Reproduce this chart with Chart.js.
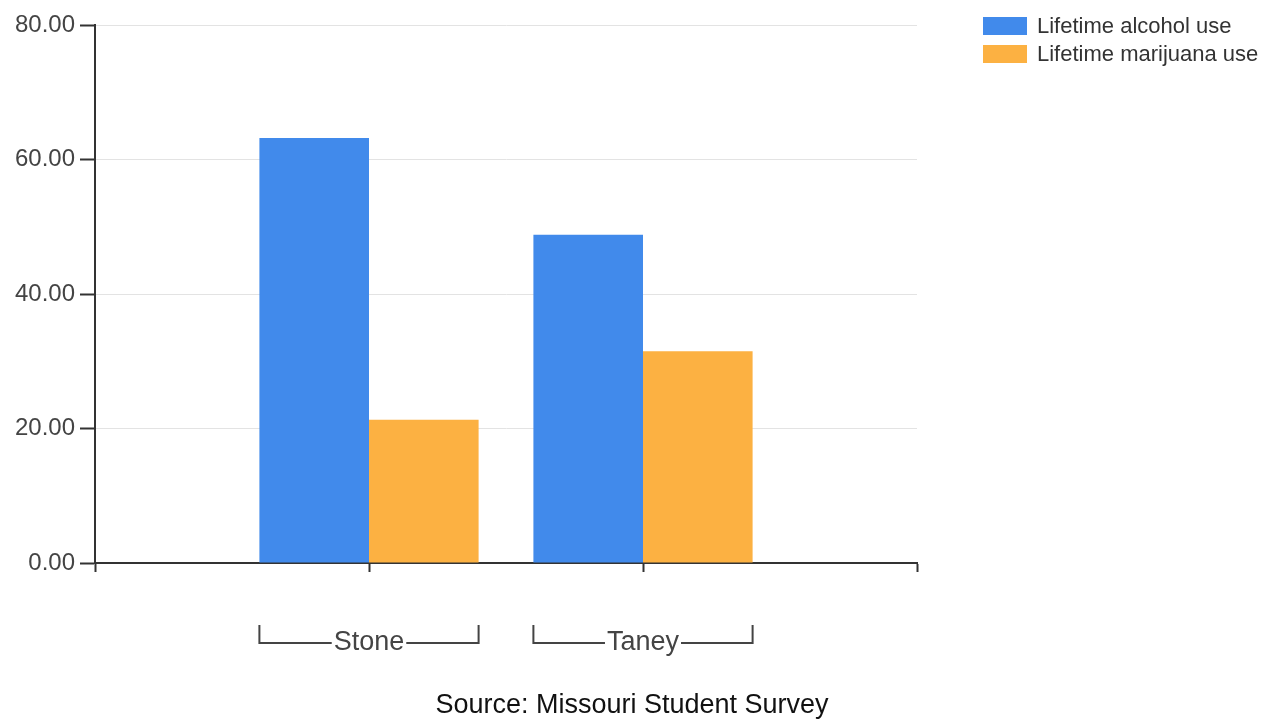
<!DOCTYPE html>
<html>
<head>
<meta charset="utf-8">
<script src="https://cdn.jsdelivr.net/npm/chart.js@4/dist/chart.umd.min.js"></script>
<style>
  html, body { margin: 0; padding: 0; background: #fff; }
</style>
</head>
<body>
<canvas id="surveyChart" width="1272" height="719"></canvas>
<script>
// empty slots at both ends keep the two groups in the middle of the axis
const categories = ['', 'Stone', 'Taney', ''];
const alcoholUse = [null, 63.2, 48.8, null];
const marijuanaUse = [null, 21.3, 31.5, null];
const seriesNames = ['Lifetime alcohol use', 'Lifetime marijuana use'];
const seriesColors = ['#418AEB', '#FCB142'];
const yMin = 0, yMax = 80, yStep = 20;
const sourceNote = 'Source: Missouri Student Survey';

const FONT = '"Liberation Sans", Arial, sans-serif';

// brackets under categories, legend at top right, source line at bottom
const extras = {
    id: 'extras',
    afterDraw(chart) {
        const ctx = chart.ctx;
        const x = chart.scales.x;
        const bottom = chart.chartArea.bottom;
        ctx.save();

        ctx.font = '27px ' + FONT;
        ctx.strokeStyle = '#444';
        ctx.lineWidth = 2;
        const step = x.getPixelForValue(1) - x.getPixelForValue(0);
        const half = step * 0.8 / 2;
        categories.forEach((c, i) => {
            if (!c) return;
            const cx = x.getPixelForValue(i);
            const tw = ctx.measureText(c).width;
            const yTop = bottom + 62, yLine = bottom + 80;
            ctx.beginPath();
            ctx.moveTo(cx - half, yTop);
            ctx.lineTo(cx - half, yLine);
            ctx.lineTo(cx - tw / 2 - 2, yLine);
            ctx.moveTo(cx + tw / 2 + 2, yLine);
            ctx.lineTo(cx + half, yLine);
            ctx.lineTo(cx + half, yTop);
            ctx.stroke();
        });

        // legend
        ctx.font = '22px ' + FONT;
        ctx.textBaseline = 'middle';
        ctx.textAlign = 'left';
        chart.data.datasets.forEach((ds, i) => {
            const top = 17 + i * 28;
            ctx.fillStyle = ds.backgroundColor;
            ctx.fillRect(983, top, 44, 18);
            ctx.fillStyle = '#333';
            ctx.fillText(ds.label, 1037, top + 10);
        });

        // source
        ctx.font = '27px ' + FONT;
        ctx.fillStyle = '#111';
        ctx.textAlign = 'center';
        ctx.fillText(sourceNote, 632, 706);
        ctx.restore();
    }
};

const ctx = document.getElementById('surveyChart').getContext('2d');

const surveyChart = new Chart(ctx, {
    type: 'bar',
    data: {
        labels: categories,
        datasets: [{
            label: seriesNames[0],
            data: alcoholUse,
            backgroundColor: seriesColors[0]
        }, {
            label: seriesNames[1],
            data: marijuanaUse,
            backgroundColor: seriesColors[1]
        }]
    },
    options: {
        responsive: false,
        animation: false,
        categoryPercentage: 0.8,
        barPercentage: 1.0,
        layout: {
            padding: { top: 25, right: 355, bottom: 0, left: 0 }
        },
        plugins: {
            legend: { display: false },
            tooltip: { enabled: false }
        },
        scales: {
            x: {
                offset: false,
                afterFit: (s) => { s.height = 156; },
                grid: {
                    offset: false,
                    drawOnChartArea: false,
                    drawTicks: true,
                    tickLength: 9,
                    tickColor: '#333',
                    tickWidth: 2
                },
                border: { color: '#333', width: 2 },
                ticks: {
                    padding: 54,
                    color: '#444',
                    font: { family: FONT, size: 27 }
                }
            },
            y: {
                min: yMin,
                max: yMax,
                afterFit: (s) => { s.width = 95; },
                grid: {
                    color: '#e3e3e3',
                    lineWidth: 1,
                    tickLength: 15,
                    tickColor: '#333',
                    tickWidth: 2
                },
                border: { color: '#333', width: 2 },
                ticks: {
                    stepSize: yStep,
                    padding: 5,
                    color: '#444',
                    font: { family: FONT, size: 24 },
                    callback: (v) => v.toFixed(2)
                }
            }
        }
    },
    plugins: [extras]
});
</script>
</body>
</html>
